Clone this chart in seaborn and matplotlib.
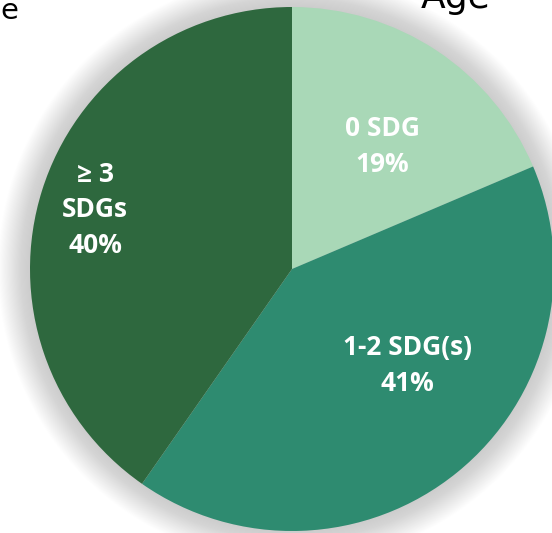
import matplotlib
matplotlib.use("Agg")
import matplotlib.pyplot as plt
import seaborn as sns
import numpy as np
from matplotlib.patches import Circle

# Data
categories = ["0 SDG", "1-2 SDG(s)", "\u2265 3\nSDGs"]
shares = [18.6, 41.1, 40.3]
colors = ["#a9d8b7", "#2e8b70", "#2e683e"]

sns.set_theme(style="white")
plt.rcParams['font.family'] = ['DejaVu Sans']

W, H, DPI = 552, 533, 100
CX, CY, R = 292, 269, 262   # pie centre / radius in pixels

fig = plt.figure(figsize=(W / DPI, H / DPI), dpi=DPI)
ax = fig.add_axes([0, 0, 1, 1])

# soft shadow halo around the pie
for k in range(30):
    ax.add_patch(Circle((0, 0), 1 + k * 0.0042, color="#808080", alpha=0.012,
                        lw=0, zorder=0))

wedges, _ = ax.pie(shares, colors=colors, startangle=90, counterclock=False,
                   radius=1, wedgeprops=dict(linewidth=0, zorder=2))

# label positions (radius fraction, angle in degrees)
label_pos = [(0.579, 53.6), (0.574, -40.1), (0.785, 163.3)]
tot = sum(shares)
for cat, v, (r, ang) in zip(categories, shares, label_pos):
    x, y = r * np.cos(np.radians(ang)), r * np.sin(np.radians(ang))
    ax.text(x, y, f"{cat}\n{round(v / tot * 100)}%", ha="center", va="center",
            color="white", fontsize=19, fontweight="bold",
            family=["Open Sans", "DejaVu Sans"], linespacing=1.42, zorder=5)

ax.set_xlim(-CX / R, (W - CX) / R)
ax.set_ylim(-(H - CY) / R, CY / R)
ax.set_aspect("auto")
ax.axis("off")

# cut-off titles from neighbouring charts
fig.text(0.0, 1 - 19 / H, "e", fontsize=21, color="black", ha="left", va="baseline")
fig.text(421 / W, 1 - 8 / H, "Age", fontsize=26, color="black", ha="left", va="baseline")

fig.savefig("out.png", dpi=DPI)
